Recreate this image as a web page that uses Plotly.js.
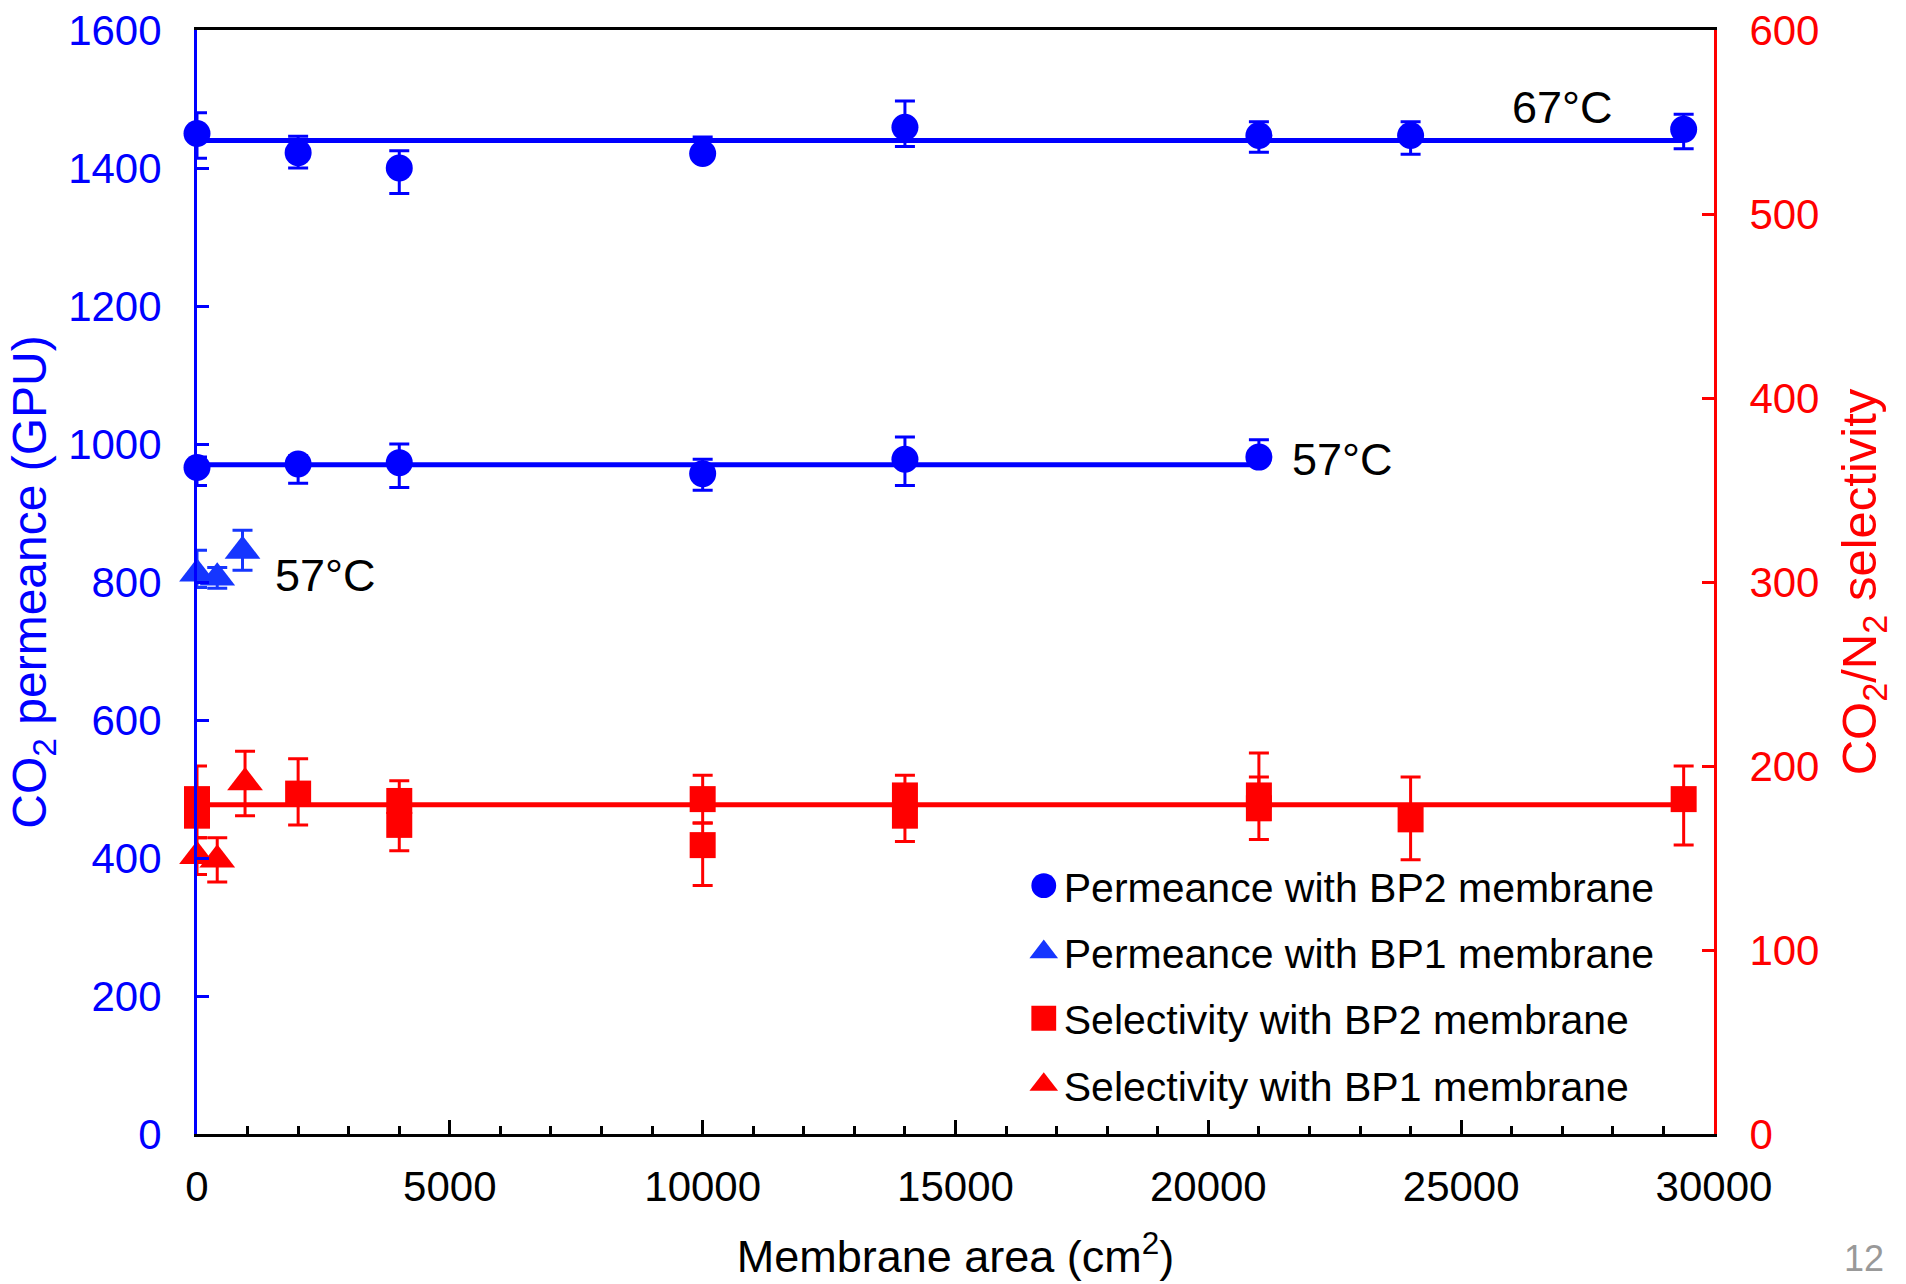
<!DOCTYPE html>
<html>
<head>
<meta charset="utf-8">
<script src="https://cdn.plot.ly/plotly-3.0.1.min.js"></script>
<style>html,body{margin:0;padding:0;background:#fff;}</style>
</head>
<body>
<div id="chart" style="width:1906px;height:1284px;"></div>
<script>
// Permeance with BP2 membrane, 67 °C
const x67 = [0, 2000, 4000, 10000, 14000, 21000, 24000, 29400];
const y67 = [1450, 1422, 1400, 1421, 1459, 1447, 1447, 1456];
const e67Plus = [30, 24, 25, 24, 38, 20, 20, 22];
const e67Minus = [36, 22, 37, 10, 28, 24, 27, 28];
const fit67 = 1440;

// Permeance with BP2 membrane, 57 °C
const x57 = [0, 2000, 4000, 10000, 14000, 21000];
const y57 = [966, 971, 973, 957, 978, 981];
const e57Plus = [15, 12, 27, 21, 32, 25];
const e57Minus = [26, 28, 36, 24, 38, 8];
const fit57 = 970;

// Permeance with BP1 membrane, 57 °C
const xBP1 = [0, 400, 900];
const yBP1Perm = [812, 806, 845];
const eBP1PermPlus = [34, 15, 30];
const eBP1PermMinus = [20, 15, 28];

// Selectivity with BP2 membrane
const xSel2 = [0, 0, 2000, 4000, 4000, 10000, 10000, 14000, 14000, 21000, 21000, 24000, 29400];
const ySel2 = [182, 173, 185, 181, 168, 182, 157, 184, 173, 184, 177, 171, 182];
const eSel2Plus = [18, 8, 19, 11, 8, 13, 12, 11, 8, 23, 17, 23, 18];
const eSel2Minus = [8, 12, 17, 8, 14, 13, 22, 8, 14, 8, 17, 22, 25];
const fitSel = 179;

// Selectivity with BP1 membrane
const xSel1 = [0, 400, 950];
const ySel1 = [151, 149, 191];
const eSel1Plus = [10, 12, 17];
const eSel1Minus = [10, 12, 18];

const seriesNames = [
  'Permeance with BP2 membrane',
  'Permeance with BP1 membrane',
  'Selectivity with BP2 membrane',
  'Selectivity with BP1 membrane'
];
const xTickVals = [0, 5000, 10000, 15000, 20000, 25000, 30000];
const yTickVals = [0, 200, 400, 600, 800, 1000, 1200, 1400, 1600];
const y2TickVals = [0, 100, 200, 300, 400, 500, 600];

const BLUE = '#0000ff';
const BLUE_T = '#1536ff';
const RED = '#ff0000';
const FONT = "'Liberation Sans Narrow', 'Arial Narrow', 'Liberation Sans', Arial, sans-serif";

function lineTrace(xs, yv, color, yaxis) {
  return {x: [xs[0], xs[xs.length - 1]], y: [yv, yv], mode: 'lines', yaxis: yaxis,
    line: {color: color, width: 5}, showlegend: false, hoverinfo: 'skip', cliponaxis: false};
}
function err(plus, minus, color) {
  return {type: 'data', symmetric: false, array: plus, arrayminus: minus,
    color: color, thickness: 3, width: 10};
}

const traces = [
  lineTrace(x67, fit67, BLUE, 'y'),
  lineTrace(x57, fit57, BLUE, 'y'),
  lineTrace([0, 29400], fitSel, RED, 'y2'),
  {x: xSel2, y: ySel2, yaxis: 'y2', mode: 'markers', name: seriesNames[2], cliponaxis: false,
    legendgroup: 'c', legendrank: 3,
    marker: {symbol: 'square', size: 26, color: RED}, error_y: err(eSel2Plus, eSel2Minus, RED)},
  {x: xSel1, y: ySel1, yaxis: 'y2', mode: 'markers', name: seriesNames[3], cliponaxis: false,
    legendgroup: 'd', legendrank: 4,
    marker: {symbol: 'triangle-up', size: 31, color: RED}, error_y: err(eSel1Plus, eSel1Minus, RED)},
  {x: x67, y: y67, mode: 'markers', name: seriesNames[0], cliponaxis: false,
    legendgroup: 'a', legendrank: 1,
    marker: {symbol: 'circle', size: 27, color: BLUE}, error_y: err(e67Plus, e67Minus, BLUE)},
  {x: x57, y: y57, mode: 'markers', name: seriesNames[0], showlegend: false, cliponaxis: false,
    legendgroup: 'a',
    marker: {symbol: 'circle', size: 27, color: BLUE}, error_y: err(e57Plus, e57Minus, BLUE)},
  {x: xBP1, y: yBP1Perm, mode: 'markers', name: seriesNames[1], cliponaxis: false,
    legendgroup: 'b', legendrank: 2,
    marker: {symbol: 'triangle-up', size: 31, color: BLUE_T}, error_y: err(eBP1PermPlus, eBP1PermMinus, BLUE_T)}
];

const layout = {
  width: 1906, height: 1284,
  margin: {l: 197, r: 192, t: 30, b: 150},
  paper_bgcolor: '#ffffff', plot_bgcolor: '#ffffff',
  font: {family: FONT, size: 42, color: '#000'},
  showlegend: true,
  legend: {x: 0.545, y: 0.255, xanchor: 'left', yanchor: 'top', bgcolor: 'rgba(0,0,0,0)',
    font: {family: FONT, size: 41, color: '#000'}, traceorder: 'grouped', tracegroupgap: 10},
  xaxis: {
    range: [0, 30000], tickvals: xTickVals, ticktext: xTickVals.map(String),
    ticks: 'inside', ticklen: 14, tickwidth: 3, tickcolor: '#000',
    minor: {dtick: 1000, ticks: 'inside', ticklen: 8, tickwidth: 3, tickcolor: '#000'},
    showline: true, linecolor: '#000', linewidth: 3, mirror: true,
    showgrid: false, zeroline: false, ticklabelstandoff: 14,
    tickfont: {family: FONT, size: 42, color: '#000'},
    title: {text: 'Membrane area (cm<sup>2</sup>)', font: {family: FONT, size: 45, color: '#000'}, standoff: 32}
  },
  yaxis: {
    range: [0, 1600], tickvals: yTickVals, ticktext: yTickVals.map(String),
    ticks: 'inside', ticklen: 12, tickwidth: 3, tickcolor: BLUE,
    showline: true, linecolor: BLUE, linewidth: 3,
    showgrid: false, zeroline: false, ticklabelstandoff: 24,
    tickfont: {family: FONT, size: 42, color: BLUE},
    title: {text: 'CO<sub>2</sub> permeance (GPU)', font: {family: FONT, size: 48, color: BLUE}, standoff: 7}
  },
  yaxis2: {
    range: [0, 600], tickvals: y2TickVals, ticktext: y2TickVals.map(String),
    overlaying: 'y', side: 'right',
    ticks: 'inside', ticklen: 12, tickwidth: 3, tickcolor: RED,
    showline: true, linecolor: RED, linewidth: 3,
    showgrid: false, zeroline: false, ticklabelstandoff: 24,
    tickfont: {family: FONT, size: 42, color: RED},
    title: {text: 'CO<sub>2</sub>/N<sub>2</sub> selectivity', font: {family: FONT, size: 49, color: RED}, standoff: 24}
  },
  annotations: [
    {x: 27000, y: 1488, xref: 'x', yref: 'y', text: '67°C', showarrow: false,
      font: {family: FONT, size: 45, color: '#000'}},
    {x: 22650, y: 977, xref: 'x', yref: 'y', text: '57°C', showarrow: false,
      font: {family: FONT, size: 45, color: '#000'}},
    {x: 2550, y: 810, xref: 'x', yref: 'y', text: '57°C', showarrow: false,
      font: {family: FONT, size: 45, color: '#000'}},
    {x: (1864 - 197) / 1517, y: (1134 - 1258) / 1104, xref: 'paper', yref: 'paper', text: '12', showarrow: false,
      xanchor: 'center', yanchor: 'middle', borderpad: 0,
      font: {family: FONT, size: 36, color: '#999999'}}
  ]
};

Plotly.newPlot('chart', traces, layout, {displayModeBar: false, staticPlot: true}).then(function (gd) {
  // enlarge the legend symbols to match the marker size drawn in the plot
  gd.querySelectorAll('.legend .legendpoints path.scatterpts, .legend .legendpoints .scatterpts path').forEach(function (p) {
    const t = p.getAttribute('transform') || '';
    p.setAttribute('transform', t + ' scale(1.55)');
  });
});
</script>
</body>
</html>
